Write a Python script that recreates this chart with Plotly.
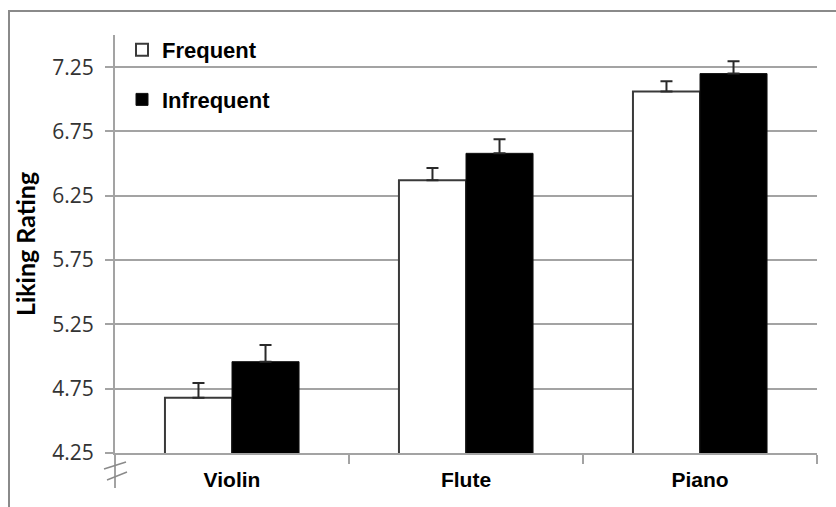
import plotly.graph_objects as go

# Liking ratings by instrument and exposure frequency
instruments = ["Violin", "Flute", "Piano"]
frequent = [4.68, 6.37, 7.06]
frequent_err = [0.115, 0.095, 0.08]
infrequent = [4.96, 6.58, 7.20]
infrequent_err = [0.13, 0.11, 0.095]
y_ticks = [4.25, 4.75, 5.25, 5.75, 6.25, 6.75, 7.25]

W, H = 836, 507
ML, MR, MT, MB = 115, 19, 35, 54
PW, PH = W - ML - MR, H - MT - MB


def px(x):
    return (x - ML) / PW


def py(y):
    return (H - MB - y) / PH


fig = go.Figure()
fig.add_trace(go.Bar(
    name="Frequent", x=instruments, y=frequent,
    marker=dict(color="white", line=dict(color="#3a3a3a", width=2)),
    error_y=dict(type="data", array=frequent_err, arrayminus=[0] * 3,
                 symmetric=False, color="#2a2a2a", thickness=2, width=6),
    legendgroup="a",
))
fig.add_trace(go.Bar(
    name="Infrequent", x=instruments, y=infrequent,
    marker=dict(color="black", line=dict(color="#111111", width=1)),
    error_y=dict(type="data", array=infrequent_err, arrayminus=[0] * 3,
                 symmetric=False, color="#2a2a2a", thickness=2, width=6),
    legendgroup="b",
))

axis_grey = "#a3a3a3"
shapes = [
    # outer chart frame
    dict(type="rect", xref="paper", yref="paper",
         x0=px(9), x1=px(W + 20), y0=py(H + 20), y1=py(11),
         line=dict(color="#8a8a8a", width=2), fillcolor="rgba(0,0,0,0)",
         layer="below"),
    # value axis continues below the category axis
    dict(type="line", xref="paper", yref="paper",
         x0=0, x1=0, y0=py(453), y1=py(488),
         line=dict(color=axis_grey, width=2)),
    # axis break marks
    dict(type="line", xref="paper", yref="paper",
         x0=px(104), x1=px(126), y0=py(469), y1=py(462),
         line=dict(color="#8a8a8a", width=1.5)),
    dict(type="line", xref="paper", yref="paper",
         x0=px(107), x1=px(127), y0=py(480), y1=py(472),
         line=dict(color="#8a8a8a", width=1.5)),
]

fig.update_layout(
    width=W, height=H,
    margin=dict(l=ML, r=MR, t=MT, b=MB),
    paper_bgcolor="white", plot_bgcolor="white",
    barmode="group", bargap=0.427, bargroupgap=0,
    shapes=shapes,
    showlegend=True,
    legend=dict(
        x=px(122), y=py(29), xanchor="left", yanchor="top",
        bgcolor="rgba(0,0,0,0)", tracegroupgap=18,
        font=dict(family="Liberation Sans, Arial", size=22, color="black",
                  weight="bold"),
        itemwidth=30,
    ),
    xaxis=dict(
        type="category", showline=True, linecolor=axis_grey, linewidth=2,
        ticks="outside", tickson="boundaries", ticklen=9, tickcolor=axis_grey,
        tickwidth=2, showgrid=False,
        tickfont=dict(family="Liberation Sans, Arial", size=21, color="black",
                      weight="bold"),
        ticklabelstandoff=7,
    ),
    yaxis=dict(
        range=[4.25, 7.5], tickmode="array", tickvals=y_ticks,
        ticktext=[f"{v:.2f}" for v in y_ticks],
        showline=True, linecolor=axis_grey, linewidth=2,
        showgrid=True, gridcolor=axis_grey, gridwidth=2,
        ticks="outside", ticklen=8, tickcolor=axis_grey, tickwidth=2,
        zeroline=False,
        tickfont=dict(family="Open Sans", size=21, color="#333333"),
        ticklabelstandoff=7,
        title=dict(text="Liking Rating", standoff=10,
                   font=dict(family="Lato", size=25, color="black",
                             weight="bold")),
    ),
)

fig.write_html("out.html")
